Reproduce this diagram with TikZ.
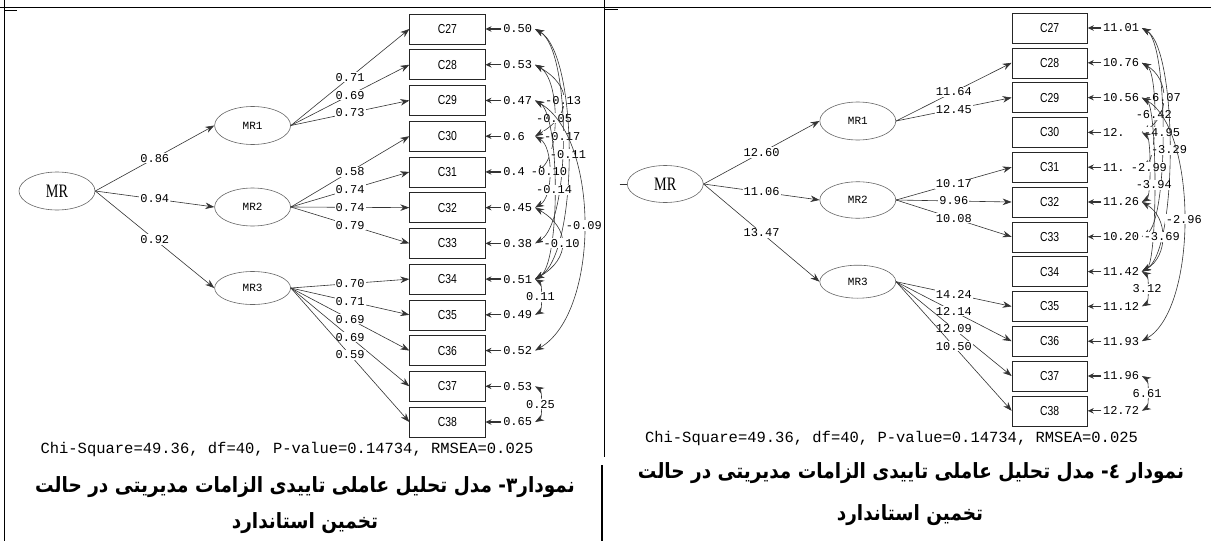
\documentclass[tikz,border=0pt]{standalone}
\usepackage{fontspec}
\usetikzlibrary{arrows.meta,positioning,shapes.geometric}
\TeXXeTstate=1
\newfontfamily\lisfont{Liberation Mono}
\newfontfamily\boxfont[FakeStretch=0.8]{Liberation Sans}
\newfontfamily\mrfont[FakeStretch=0.75]{Liberation Serif}
\newfontfamily\farsifont[Script=Arabic, FakeStretch=0.88]{DejaVu Sans}

\begin{document}
\begin{tikzpicture}[x=1pt, y=1pt, >={Stealth[length=9pt,width=6.5pt]}, line width=0.6pt, draw=black!80,
    obs/.style={rectangle, draw=black!85, minimum width=75.5pt, minimum height=30pt, inner sep=0pt, font=\boxfont\fontsize{13}{13}\selectfont},
    latent/.style={ellipse, draw=black!60, minimum width=76pt, minimum height=38pt, inner sep=0pt, font=\lisfont\fontsize{11}{11}\selectfont},
    err/.style={text width=30pt, inner sep=1.5pt, align=left, font=\lisfont\fontsize{12}{12}\selectfont},
    errR/.style={err, text width=37pt},
    erra/.style={-{Stealth[length=6pt,width=5.5pt]}, line width=1.3pt},
    corr/.style={<->},
    wt/.style={fill=white, inner sep=1pt, font=\lisfont\fontsize{12}{12}\selectfont},
    chisq/.style={font=\lisfont\fontsize{15.5}{15.5}\selectfont},
    farsicap/.style={font=\farsifont\bfseries\fontsize{21}{21}\selectfont}]
    \useasboundingbox (0,0) rectangle (1211,-541);

    % Table rules
    \draw [line width=1.5pt, black] (0,-7.5) -- (1211,-7.5);
    \draw [line width=1.5pt, black] (4.5,0) -- (4.5,-541);
    \draw [line width=1.5pt, black] (604.5,0) -- (604.5,-457);
    \draw [line width=1.5pt, black] (602,-465) -- (602,-541);
    \draw [line width=1pt, black] (4.5,-10) -- (17,-10);
    \draw [line width=1pt, black] (604.5,-9.5) -- (617.5,-9.5);

    % ---------------- Left: standardized solution ----------------
    % Latent variables
    \node [latent, font=\mrfont\fontsize{19}{19}\selectfont] (LMR) at (57,-191) {MR};
    \node [latent] (LMR1) at (252.6,-125.5) {MR1};
    \node [latent] (LMR2) at (252.6,-207) {MR2};
    \node [latent, minimum height=33pt] (LMR3) at (252.6,-288) {MR3};

    % Indicators
    \begin{scope}[node distance=35.73pt]
    \node [obs] (L27) at (447.4,-29) {C27};
    \node [obs] (L28) [below of=L27] {C28};
    \node [obs] (L29) [below of=L28] {C29};
    \node [obs] (L30) [below of=L29] {C30};
    \node [obs] (L31) [below of=L30] {C31};
    \node [obs] (L32) [below of=L31] {C32};
    \node [obs] (L33) [below of=L32] {C33};
    \node [obs] (L34) [below of=L33] {C34};
    \node [obs] (L35) [below of=L34] {C35};
    \node [obs] (L36) [below of=L35] {C36};
    \node [obs] (L37) [below of=L36] {C37};
    \node [obs] (L38) [below of=L37] {C38};
    \end{scope}

    % Error variances
    \node [err] (Le27) [right=16pt of L27] {0.50};
    \node [err] (Le28) [right=16pt of L28] {0.53};
    \node [err] (Le29) [right=16pt of L29] {0.47};
    \node [err] (Le30) [right=16pt of L30] {0.6};
    \node [err] (Le31) [right=16pt of L31] {0.4};
    \node [err] (Le32) [right=16pt of L32] {0.45};
    \node [err] (Le33) [right=16pt of L33] {0.38};
    \node [err] (Le34) [right=16pt of L34] {0.51};
    \node [err] (Le35) [right=16pt of L35] {0.49};
    \node [err] (Le36) [right=16pt of L36] {0.52};
    \node [err] (Le37) [right=16pt of L37] {0.53};
    \node [err] (Le38) [right=16pt of L38] {0.65};

    % Paths
    \path [->] (LMR.east) edge node[wt] {0.86} (LMR1.west);
    \path [->] (LMR.east) edge node[wt] {0.94} (LMR2.west);
    \path [->] (LMR.east) edge node[wt] {0.92} (LMR3.west);
    \path [->] (LMR1.east) edge node[wt] {0.71} (L27.west);
    \path [->] (LMR1.east) edge node[wt] {0.69} (L28.west);
    \path [->] (LMR1.east) edge node[wt] {0.73} (L29.west);
    \path [->] (LMR2.east) edge node[wt] {0.58} (L30.west);
    \path [->] (LMR2.east) edge node[wt] {0.74} (L31.west);
    \path [->] (LMR2.east) edge node[wt] {0.74} (L32.west);
    \path [->] (LMR2.east) edge node[wt] {0.79} (L33.west);
    \path [->] (LMR3.east) edge node[wt] {0.70} (L34.west);
    \path [->] (LMR3.east) edge node[wt] {0.71} (L35.west);
    \path [->] (LMR3.east) edge node[wt] {0.69} (L36.west);
    \path [->] (LMR3.east) edge node[wt] {0.69} (L37.west);
    \path [->] (LMR3.east) edge node[wt] {0.59} (L38.west);

    \path [erra] (Le27.west) edge (L27.east);
    \path [erra] (Le28.west) edge (L28.east);
    \path [erra] (Le29.west) edge (L29.east);
    \path [erra] (Le30.west) edge (L30.east);
    \path [erra] (Le31.west) edge (L31.east);
    \path [erra] (Le32.west) edge (L32.east);
    \path [erra] (Le33.west) edge (L33.east);
    \path [erra] (Le34.west) edge (L34.east);
    \path [erra] (Le35.west) edge (L35.east);
    \path [erra] (Le36.west) edge (L36.east);
    \path [erra] (Le37.west) edge (L37.east);
    \path [erra] (Le38.west) edge (L38.east);

    % Error covariances
    \path [corr] (Le28.east) edge [out=-30, in=30, looseness=1.55] node[wt] {-0.13} (Le30.east);
    \path [corr] (Le28.east) edge [out=-30, in=30, looseness=0.70] node[wt] {-0.05} (Le31.east);
    \path [corr] (Le27.east) edge [out=-30, in=30, looseness=0.50] node[wt] {-0.17} (Le33.east);
    \path [corr] (Le27.east) edge [out=-30, in=30, looseness=0.52] node[wt] {-0.11} (Le34.east);
    \path [corr] (Le30.east) edge [out=-30, in=30, looseness=0.77] node[wt] {-0.10} (Le32.east);
    \path [corr] (Le29.east) edge [out=-30, in=30, looseness=0.42] node[wt] {-0.14} (Le34.east);
    \path [corr] (Le29.east) edge [out=-30, in=30, looseness=0.77] node[wt] {-0.09} (Le36.east);
    \path [corr] (Le32.east) edge [out=-30, in=30, looseness=1.47] node[wt] {-0.10} (Le34.east);
    \path [corr] (Le34.east) edge [out=-30, in=30, looseness=0.60] node[wt] {0.11} (Le35.east);
    \path [corr] (Le37.east) edge [out=-30, in=30, looseness=0.60] node[wt] {0.25} (Le38.east);

    \node [chisq] (Lfit) at (287,-449) {Chi-Square=49.36, df=40, P-value=0.14734, RMSEA=0.025};
    \node [farsicap] (Lcap1) at (305,-487) {\beginR نمودار۳- مدل تحلیل عاملی تاییدی الزامات مدیریتی در حالت\endR};
    \node [farsicap] (Lcap2) at (305,-523) {\beginR تخمین استاندارد\endR};

    % ---------------- Right: t-values ----------------
    \node [latent, font=\mrfont\fontsize{19}{19}\selectfont, minimum height=37pt] (RMR) at (665.3,-184) {MR};
    \node [latent] (RMR1) at (857.8,-121) {MR1};
    \node [latent, minimum height=36.5pt] (RMR2) at (857.8,-200) {MR2};
    \node [latent, minimum height=33pt] (RMR3) at (857.8,-281.7) {MR3};
    \coordinate (Rstub) at (619.5,-184);

    \begin{scope}[node distance=34.8pt]
    \node [obs] (R27) at (1049.7,-28) {C27};
    \node [obs] (R28) [below of=R27] {C28};
    \node [obs] (R29) [below of=R28] {C29};
    \node [obs] (R30) [below of=R29] {C30};
    \node [obs] (R31) [below of=R30] {C31};
    \node [obs] (R32) [below of=R31] {C32};
    \node [obs] (R33) [below of=R32] {C33};
    \node [obs] (R34) [below of=R33] {C34};
    \node [obs] (R35) [below of=R34] {C35};
    \node [obs] (R36) [below of=R35] {C36};
    \node [obs] (R37) [below of=R36] {C37};
    \node [obs] (R38) [below of=R37] {C38};
    \end{scope}

    \node [errR] (Re27) [right=13.5pt of R27] {11.01};
    \node [errR] (Re28) [right=13.5pt of R28] {10.76};
    \node [errR] (Re29) [right=13.5pt of R29] {10.56};
    \node [errR] (Re30) [right=13.5pt of R30] {12.};
    \node [errR] (Re31) [right=13.5pt of R31] {11.};
    \node [errR] (Re32) [right=13.5pt of R32] {11.26};
    \node [errR] (Re33) [right=13.5pt of R33] {10.20};
    \node [errR] (Re34) [right=13.5pt of R34] {11.42};
    \node [errR] (Re35) [right=13.5pt of R35] {11.12};
    \node [errR] (Re36) [right=13.5pt of R36] {11.93};
    \node [errR] (Re37) [right=13.5pt of R37] {11.96};
    \node [errR] (Re38) [right=13.5pt of R38] {12.72};

    \draw (Rstub) -- (RMR.west);
    \path [->] (RMR.east) edge node[wt] {12.60} (RMR1.west);
    \path [->] (RMR.east) edge node[wt] {11.06} (RMR2.west);
    \path [->] (RMR.east) edge node[wt] {13.47} (RMR3.west);
    \path [->] (RMR1.east) edge node[wt] {11.64} (R28.west);
    \path [->] (RMR1.east) edge node[wt] {12.45} (R29.west);
    \path [->] (RMR2.east) edge node[wt] {10.17} (R31.west);
    \path [->] (RMR2.east) edge node[wt] {9.96} (R32.west);
    \path [->] (RMR2.east) edge node[wt] {10.08} (R33.west);
    \path [->] (RMR3.east) edge node[wt] {14.24} (R35.west);
    \path [->] (RMR3.east) edge node[wt] {12.14} (R36.west);
    \path [->] (RMR3.east) edge node[wt] {12.09} (R37.west);
    \path [->] (RMR3.east) edge node[wt] {10.50} (R38.west);

    \path [erra] (Re27.west) edge (R27.east);
    \path [erra] (Re28.west) edge (R28.east);
    \path [erra] (Re29.west) edge (R29.east);
    \path [erra] (Re30.west) edge (R30.east);
    \path [erra] (Re31.west) edge (R31.east);
    \path [erra] (Re32.west) edge (R32.east);
    \path [erra] (Re33.west) edge (R33.east);
    \path [erra] (Re34.west) edge (R34.east);
    \path [erra] (Re35.west) edge (R35.east);
    \path [erra] (Re36.west) edge (R36.east);
    \path [erra] (Re37.west) edge (R37.east);
    \path [erra] (Re38.west) edge (R38.east);

    \path [corr] (Re28.east) edge [out=-30, in=30, looseness=1.19] node[wt] {-6.07} (Re30.east);
    \path [corr] (Re28.east) edge [out=-30, in=30, looseness=0.45] node[wt] {-6.42} (Re31.east);
    \path [corr] (Re27.east) edge [out=-30, in=30, looseness=0.38] node[wt] {-4.95} (Re33.east);
    \path [corr] (Re27.east) edge [out=-30, in=30, looseness=0.44] node[wt] {-3.29} (Re34.east);
    \path [corr] (Re30.east) edge [out=-30, in=30, looseness=0.40] node[wt] {-2.99} (Re32.east);
    \path [corr] (Re29.east) edge [out=-30, in=30, looseness=0.27] node[wt] {-3.94} (Re34.east);
    \path [corr] (Re29.east) edge [out=-30, in=30, looseness=0.68] node[wt] {-2.96} (Re36.east);
    \path [corr] (Re32.east) edge [out=-30, in=30, looseness=1.13] node[wt] {-3.69} (Re34.east);
    \path [corr] (Re34.east) edge [out=-30, in=30, looseness=0.60] node[wt] {3.12} (Re35.east);
    \path [corr] (Re37.east) edge [out=-30, in=30, looseness=0.60] node[wt] {6.61} (Re38.east);

    \node [chisq] (Rfit) at (891.5,-438) {Chi-Square=49.36, df=40, P-value=0.14734, RMSEA=0.025};
    \node [farsicap] (Rcap1) at (911,-473) {\beginR نمودار ٤- مدل تحلیل عاملی تاییدی الزامات مدیریتی در حالت\endR};
    \node [farsicap] (Rcap2) at (910,-515) {\beginR تخمین استاندارد\endR};
\end{tikzpicture}
\end{document}
